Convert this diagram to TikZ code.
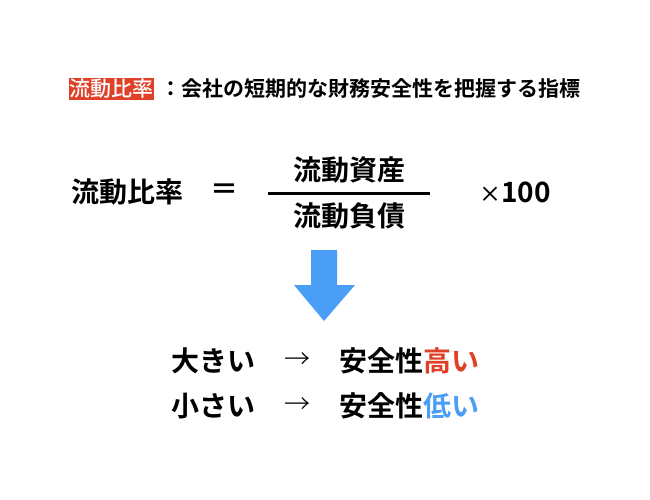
\documentclass[tikz,border=0pt]{standalone}
\usepackage{fontspec}
\newfontfamily\cjk{Noto Sans CJK JP Bold}
\newfontfamily\cjkm{Noto Sans CJK JP Medium}
\newfontfamily\cjkl{Noto Sans CJK JP Light}
\definecolor{myred}{RGB}{222,64,40}
\definecolor{myblue}{RGB}{74,158,245}
\begin{document}
\begin{tikzpicture}[x=1pt,y=-1pt,
  big/.style={font=\cjk\fontsize{28}{32}\selectfont, inner sep=0pt, anchor=west},
  small/.style={font=\cjk\fontsize{21}{25}\selectfont, inner sep=0pt, anchor=west}]
\useasboundingbox (0,0) rectangle (650,500);
\node[fill=myred, text=white, font=\cjkm\fontsize{21}{25}\selectfont, inner sep=0.5pt, minimum height=22pt, anchor=west] (tag) at (69,89) {流動比率};
\node[small] (title) at (160,89) {：会社の短期的な財務安全性を把握する指標};
\node[big] (lhs) at (71,192) {流動比率};
\node[big] (eq) at (210,192) {＝};
\node[big, anchor=center] (num) at (349,170) {流動資産};
\node[big, anchor=center] (den) at (349,216) {流動負債};
\coordinate (fl) at (268,193); \coordinate (fr) at (430,193);
\draw[line width=3pt] (fl) -- (fr);
\node[big] (mul) at (479,192) {{\cjkm\fontsize{22}{26}\selectfont ×}100};
\fill[myblue] (311,250) -- (337,250) -- (337,285) -- (355,285) -- (324,321) -- (294,285) -- (311,285) -- cycle;
\node[big] (a1) at (171,361) {大きい};
\node[big, font=\cjkl\fontsize{26}{30}\selectfont] (r1) at (284,361) {→};
\node[big] (b1) at (339,361) {安全性\textcolor{myred}{高い}};
\node[big] (a2) at (171,406) {小さい};
\node[big, font=\cjkl\fontsize{26}{30}\selectfont] (r2) at (284,406) {→};
\node[big] (b2) at (339,406) {安全性\textcolor{myblue}{低い}};
\end{tikzpicture}
\end{document}
